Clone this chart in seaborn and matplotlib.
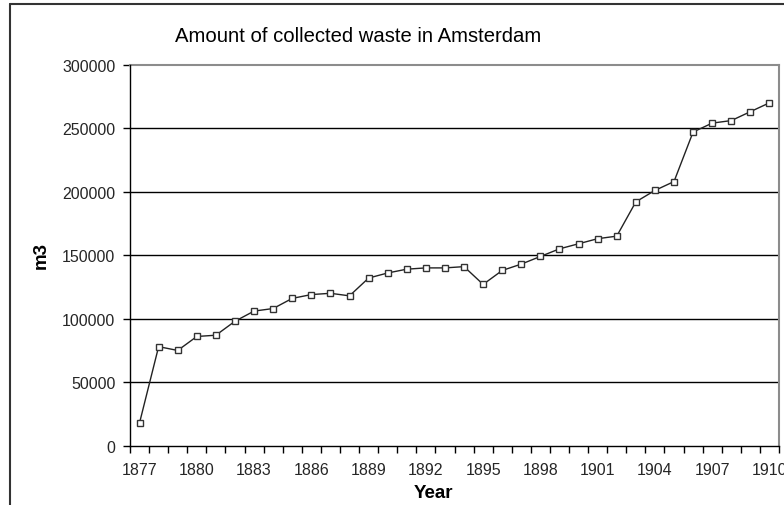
import numpy as np
import pandas as pd
import matplotlib
matplotlib.use("Agg")
import matplotlib.pyplot as plt
from matplotlib.lines import Line2D
import seaborn as sns

# Yearly volume of collected waste (m3)
years = list(range(1877, 1911))
waste_m3 = [18000, 78000, 75000, 86000, 87000, 98000, 106000, 108000, 116000, 119000,
            120000, 118000, 132000, 136000, 139000, 140000, 140000, 141000, 127000, 138000,
            143000, 149000, 155000, 159000, 163000, 165000, 192000, 201000, 208000, 247000,
            254000, 256000, 263000, 270000]
year_ticks = list(range(1877, 1911, 3))
y_ticks = [0, 50000, 100000, 150000, 200000, 250000, 300000]

df = pd.DataFrame({"Year": years, "m3": waste_m3})

sns.set_theme(style="white")
plt.rcParams["font.family"] = ["Liberation Sans", "DejaVu Sans"]

W, H = 784, 506
fig = plt.figure(figsize=(W / 100, H / 100), dpi=100)
fig.patch.set_facecolor("white")

left, right, top, bottom = 130, 779, 65.7, 446.7
ax = fig.add_axes([left / W, 1 - bottom / H, (right - left) / W, (bottom - top) / H])
ax.set_facecolor("white")

# horizontal gridlines
for v in y_ticks[1:-1]:
    ax.axhline(v, color="black", lw=1.0, zorder=1)

sns.lineplot(data=df, x="Year", y="m3", ax=ax, color="#222222", lw=1.0,
             marker="s", markersize=3.8, markerfacecolor="white",
             markeredgecolor="#333333", markeredgewidth=1.0, zorder=3)

ax.set_xlim(years[0] - 0.5, years[-1] + 0.5)
ax.set_ylim(0, 300000)

ax.set_yticks(y_ticks)
ax.set_yticklabels([str(v) for v in y_ticks])
ax.set_xticks(year_ticks)
ax.set_xticklabels([str(y) for y in year_ticks])
ax.set_xticks(np.arange(years[0] - 0.5, years[-1] + 1.0, 1.0), minor=True)

ax.tick_params(axis="y", which="major", direction="out", length=5, width=1,
               color="black", labelsize=11.5, pad=5.5, left=True)
ax.tick_params(axis="x", which="major", length=0, labelsize=11.5, pad=12,
               bottom=True)
ax.tick_params(axis="x", which="minor", direction="out", length=5, width=1,
               color="black", bottom=True)

for s in ["left", "bottom"]:
    ax.spines[s].set_color("black")
    ax.spines[s].set_linewidth(1.0)
for s in ["top", "right"]:
    ax.spines[s].set_color("#8c8c8c")
    ax.spines[s].set_linewidth(1.5)
ax.spines["left"].set_zorder(4)
ax.spines["bottom"].set_zorder(4)

ax.set_xlabel("")
ax.set_ylabel("")

fig.text(358 / W, 1 - 36 / H, "Amount of collected waste in Amsterdam",
         ha="center", va="center", fontsize=14.6, color="black")
fig.text(41 / W, 1 - 256 / H, "m3", rotation=90, ha="center", va="center",
         fontsize=13.5, fontweight="bold", color="black")
fig.text(433 / W, 1 - 494 / H, "Year", ha="center", va="center",
         fontsize=13.5, fontweight="bold", color="black")

# outer chart frame (left and top edges)
fig.add_artist(Line2D([10 / W, 10 / W], [1 - 5 / H, 0], transform=fig.transFigure,
                      color="#333333", lw=1.5))
fig.add_artist(Line2D([10 / W, 1], [1 - 5 / H, 1 - 5 / H], transform=fig.transFigure,
                      color="#333333", lw=1.5))

fig.savefig("out.png", dpi=100)
